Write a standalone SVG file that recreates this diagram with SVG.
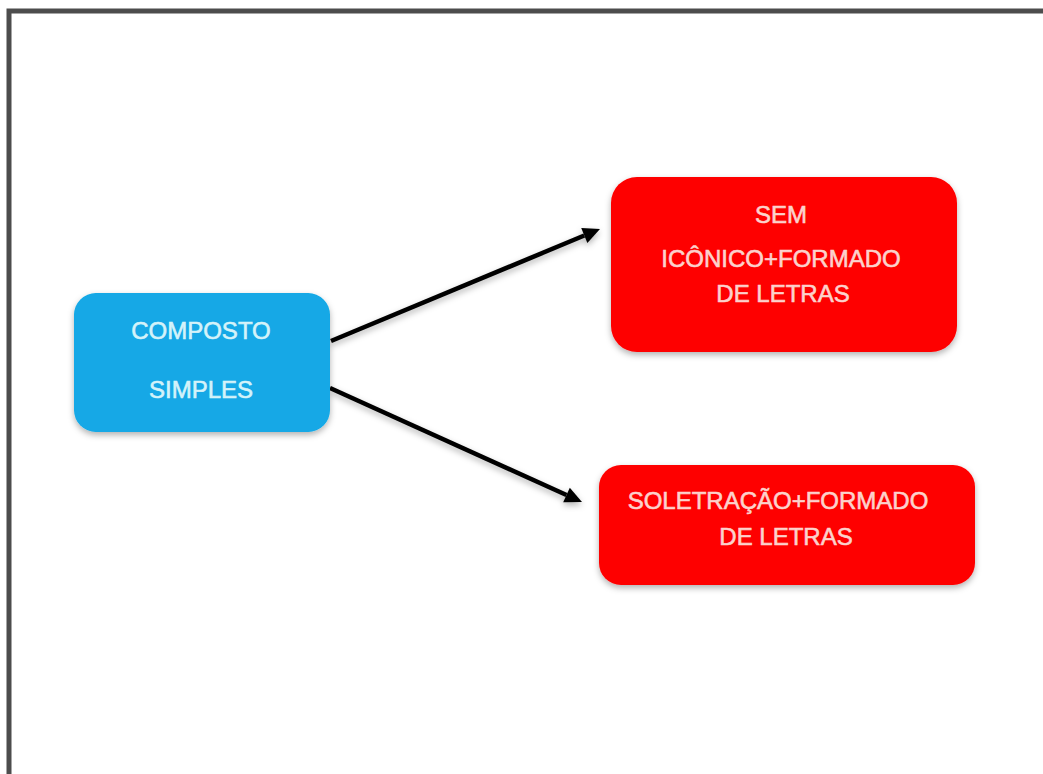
<svg xmlns="http://www.w3.org/2000/svg" width="1043" height="774" viewBox="0 0 1043 774">
  <style>
    .lbl { font-family: "Liberation Sans", Arial, sans-serif; font-size: 24px; text-anchor: middle; stroke-width: 0.6; }
    .blue-t { fill: #d4f3fa; stroke: #d4f3fa; }
    .red-t { fill: #fcd2cc; stroke: #fcd2cc; }
    .blue { fill: #12a8e6; }
    .red { fill: #fe0000; }
    .conn { stroke: #000; stroke-width: 4.5; fill: none; }
  </style>
  <defs>
    <filter id="sh" x="-10%" y="-10%" width="120%" height="130%">
      <feDropShadow dx="0" dy="3" stdDeviation="3" flood-color="#000" flood-opacity="0.3"/>
    </filter>
    <marker id="ah" markerUnits="userSpaceOnUse" viewBox="0 -10 20 20" refX="0" refY="0" markerWidth="20" markerHeight="20" orient="auto" overflow="visible">
      <path d="M0,-8 L17,0 L0,8 z" fill="#000"/>
    </marker>
  </defs>
  <rect width="1043" height="774" fill="#fff"/>
  <path d="M9,774 L9,11 L1043,11" fill="none" stroke="#4d4d4d" stroke-width="5"/>
  <g id="connectors" filter="url(#sh)">
    <line class="conn" x1="331" y1="341" x2="584.3" y2="235.5" marker-end="url(#ah)"/>
    <line class="conn" x1="330" y1="388" x2="566.5" y2="495" marker-end="url(#ah)"/>
  </g>
  <g id="node-composto">
    <rect class="blue" x="74" y="293" width="256" height="139" rx="22" filter="url(#sh)"/>
    <text class="lbl blue-t" x="201" y="339">COMPOSTO</text>
    <text class="lbl blue-t" x="201" y="398">SIMPLES</text>
  </g>
  <g id="node-sem">
    <rect class="red" x="611" y="177" width="346" height="175" rx="26" filter="url(#sh)"/>
    <text class="lbl red-t" x="781" y="223">SEM</text>
    <text class="lbl red-t" x="781" y="267">ICÔNICO+FORMADO</text>
    <text class="lbl red-t" x="783" y="302">DE LETRAS</text>
  </g>
  <g id="node-soletracao">
    <rect class="red" x="599" y="465" width="376" height="120" rx="22" filter="url(#sh)"/>
    <text class="lbl red-t" x="778" y="509">SOLETRAÇÃO+FORMADO</text>
    <text class="lbl red-t" x="786" y="545">DE LETRAS</text>
  </g>
</svg>
